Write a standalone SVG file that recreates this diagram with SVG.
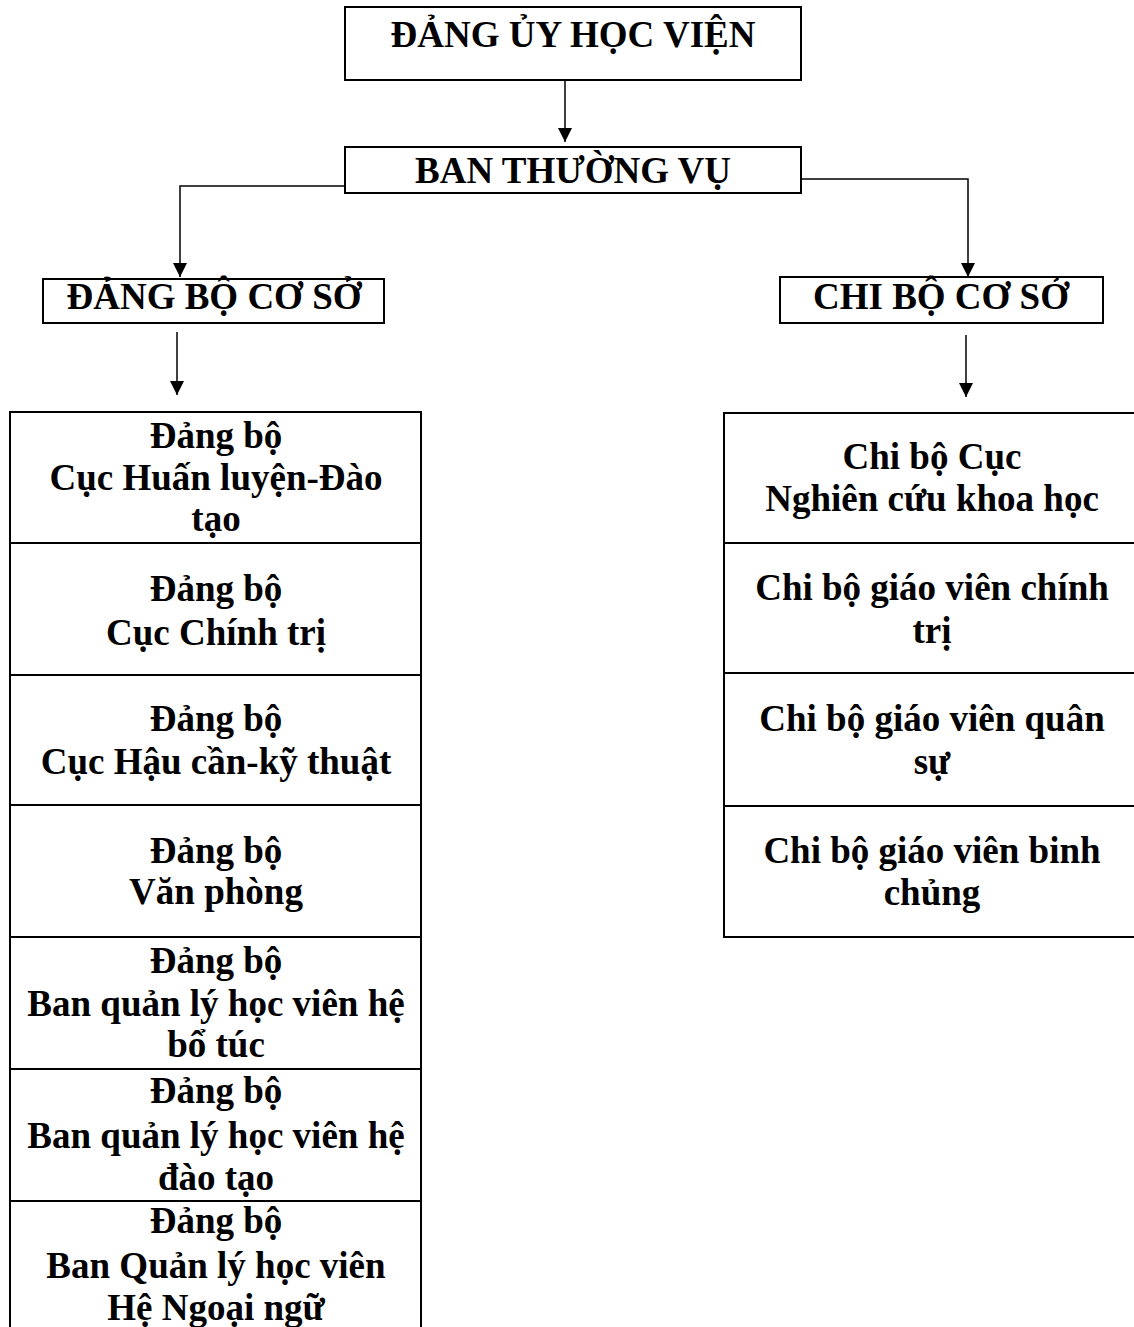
<svg xmlns="http://www.w3.org/2000/svg" width="1134" height="1327" viewBox="0 0 1134 1327">
<style>
.box{fill:#fff;stroke:#000;stroke-width:2}
.ln{fill:none;stroke:#000;stroke-width:1.5}
text{font-family:"Liberation Serif","Times New Roman",serif;font-weight:bold;font-size:37px;fill:#000;text-anchor:middle}
</style>
<defs>
<marker id="ar" markerWidth="14" markerHeight="14" refX="12" refY="6" orient="auto" markerUnits="userSpaceOnUse" viewBox="0 0 12 12">
<path d="M0,0 L12,6 L0,12 Z" fill="#000"/>
</marker>
</defs>
<g id="connectors">
<line class="ln" x1="565" y1="80" x2="565" y2="142" marker-end="url(#ar)"/>
<polyline class="ln" points="350,186 180,186 180,277" marker-end="url(#ar)"/>
<polyline class="ln" points="801,179 968,179 968,277" marker-end="url(#ar)"/>
<line class="ln" x1="177" y1="332" x2="177" y2="395" marker-end="url(#ar)"/>
<line class="ln" x1="966" y1="335" x2="966" y2="397" marker-end="url(#ar)"/>
</g>
<g id="dang-uy">
<rect class="box" x="345" y="7" width="456" height="73"/>
<text x="573" y="47">ĐẢNG ỦY HỌC VIỆN</text>
</g>
<g id="ban-thuong-vu">
<rect class="box" x="345" y="147" width="456" height="46"/>
<text x="573" y="183">BAN THƯỜNG VỤ</text>
</g>
<g id="dang-bo-co-so">
<rect class="box" x="43" y="279" width="341" height="44"/>
<text x="214" y="309">ĐẢNG BỘ CƠ SỞ</text>
</g>
<g id="chi-bo-co-so">
<rect class="box" x="780" y="277" width="323" height="46"/>
<text x="941" y="309">CHI BỘ CƠ SỞ</text>
</g>
<g id="left-table">
<rect class="box" x="10" y="412" width="411" height="930"/>
<line class="box" x1="10" y1="543" x2="421" y2="543"/>
<line class="box" x1="10" y1="675" x2="421" y2="675"/>
<line class="box" x1="10" y1="805" x2="421" y2="805"/>
<line class="box" x1="10" y1="937" x2="421" y2="937"/>
<line class="box" x1="10" y1="1069" x2="421" y2="1069"/>
<line class="box" x1="10" y1="1201" x2="421" y2="1201"/>
</g>
<g id="db-huan-luyen">
<text x="216" y="448">Đảng bộ</text>
<text x="216" y="490">Cục Huấn luyện-Đào</text>
<text x="216" y="531">tạo</text>
</g>
<g id="db-chinh-tri">
<text x="216" y="601">Đảng bộ</text>
<text x="216" y="645">Cục Chính trị</text>
</g>
<g id="db-hau-can">
<text x="216" y="731">Đảng bộ</text>
<text x="216" y="774">Cục Hậu cần-kỹ thuật</text>
</g>
<g id="db-van-phong">
<text x="216" y="863">Đảng bộ</text>
<text x="216" y="904">Văn phòng</text>
</g>
<g id="db-bo-tuc">
<text x="216" y="973">Đảng bộ</text>
<text x="216" y="1016">Ban quản lý học viên hệ</text>
<text x="216" y="1057">bổ túc</text>
</g>
<g id="db-dao-tao">
<text x="216" y="1103">Đảng bộ</text>
<text x="216" y="1148">Ban quản lý học viên hệ</text>
<text x="216" y="1190">đào tạo</text>
</g>
<g id="db-ngoai-ngu">
<text x="216" y="1233">Đảng bộ</text>
<text x="216" y="1278">Ban Quản lý học viên</text>
<text x="216" y="1320">Hệ Ngoại ngữ</text>
</g>
<g id="right-table">
<rect class="box" x="724" y="413" width="420" height="524"/>
<line class="box" x1="724" y1="543" x2="1144" y2="543"/>
<line class="box" x1="724" y1="673" x2="1144" y2="673"/>
<line class="box" x1="724" y1="806" x2="1144" y2="806"/>
</g>
<g id="cb-nckh">
<text x="932" y="469">Chi bộ Cục</text>
<text x="932" y="511">Nghiên cứu khoa học</text>
</g>
<g id="cb-chinh-tri">
<text x="932" y="600">Chi bộ giáo viên chính</text>
<text x="932" y="643">trị</text>
</g>
<g id="cb-quan-su">
<text x="932" y="731">Chi bộ giáo viên quân</text>
<text x="932" y="774">sự</text>
</g>
<g id="cb-binh-chung">
<text x="932" y="863">Chi bộ giáo viên binh</text>
<text x="932" y="905">chủng</text>
</g>
</svg>
